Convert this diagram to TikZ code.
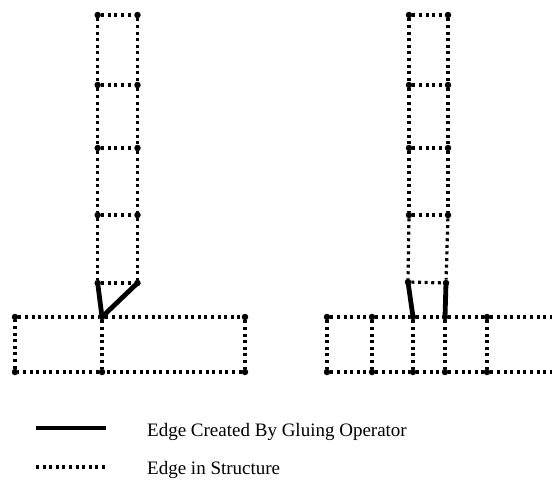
\documentclass[tikz,border=0pt]{standalone}
\usepackage{fontspec}
\setmainfont{Liberation Serif}
\begin{document}
\begin{tikzpicture}[x=1pt,y=-1pt,
  vtx/.style={circle,fill=black,inner sep=0pt,minimum size=6.5pt},
  edge/.style={line width=3.2pt,dash pattern=on 3pt off 3.6pt},
  glue/.style={line width=4.8pt},
  lbl/.style={anchor=west,inner sep=0pt,font=\fontsize{19}{21}\selectfont}]
\useasboundingbox (0,0) rectangle (552,491);
\begin{scope}
\clip (0,0) rectangle (552,491);

% ---- left structure: ladder glued on a split bar ----
\foreach \r/\y in {1/15,2/85,3/148,4/215,5/283} {
  \node[vtx] (la\r) at (97.7,\y) {};
  \node[vtx] (lb\r) at (137.5,\y) {};
}
\foreach \r in {1,...,5} { \draw[edge] (la\r) -- (lb\r); }
\foreach \r/\s in {1/2,2/3,3/4,4/5} {
  \draw[edge] (la\r) -- (la\s);
  \draw[edge] (lb\r) -- (lb\s);
}
\node[vtx] (lt1) at (15,317) {};
\node[vtx] (lt2) at (102,317) {};
\node[vtx] (lt3) at (245,317) {};
\node[vtx] (lu1) at (15,372) {};
\node[vtx] (lu2) at (102,372) {};
\node[vtx] (lu3) at (245,372) {};
\draw[edge] (lt1) -- (lt2) -- (lt3) -- (lu3) -- (lu2) -- (lu1) -- (lt1);
\draw[edge] (lt2) -- (lu2);
\draw[glue] (la5.center) -- (lt2.center);
\draw[glue] (lb5.center) -- (lt2.center);

% ---- right structure: ladder glued on a bar of cells ----
\foreach \r/\y in {1/15,2/85,3/148,4/215} {
  \node[vtx] (ra\r) at (409,\y) {};
  \node[vtx] (rb\r) at (448,\y) {};
}
\node[vtx] (ra5) at (408,282) {};
\node[vtx] (rb5) at (446,283) {};
\foreach \r in {1,...,5} { \draw[edge] (ra\r) -- (rb\r); }
\foreach \r/\s in {1/2,2/3,3/4,4/5} {
  \draw[edge] (ra\r) -- (ra\s);
  \draw[edge] (rb\r) -- (rb\s);
}
\foreach \c/\x in {1/327,2/372,3/413,4/445,5/487} {
  \node[vtx] (rt\c) at (\x,317) {};
  \node[vtx] (ru\c) at (\x,372) {};
  \draw[edge] (rt\c) -- (ru\c);
}
\coordinate (rtend) at (560,317);
\coordinate (ruend) at (560,372);
\draw[edge] (rt1) -- (rt2) -- (rt3) -- (rt4) -- (rt5) -- (rtend);
\draw[edge] (ru1) -- (ru2) -- (ru3) -- (ru4) -- (ru5) -- (ruend);
\draw[glue] (ra5.center) -- (rt3.center);
\draw[glue] (rb5.center) -- (rt4.center);
\end{scope}

% ---- legend ----
\coordinate (g1) at (36,428);
\coordinate (g2) at (106,428);
\coordinate (d1) at (36,467);
\coordinate (d2) at (106,467);
\draw[glue] (g1) -- (g2);
\draw[edge] (d1) -- (d2);
\node[lbl] (tg) at (147,432) {Edge Created By Gluing Operator};
\node[lbl] (td) at (147,470) {Edge in Structure};
\end{tikzpicture}
\end{document}
